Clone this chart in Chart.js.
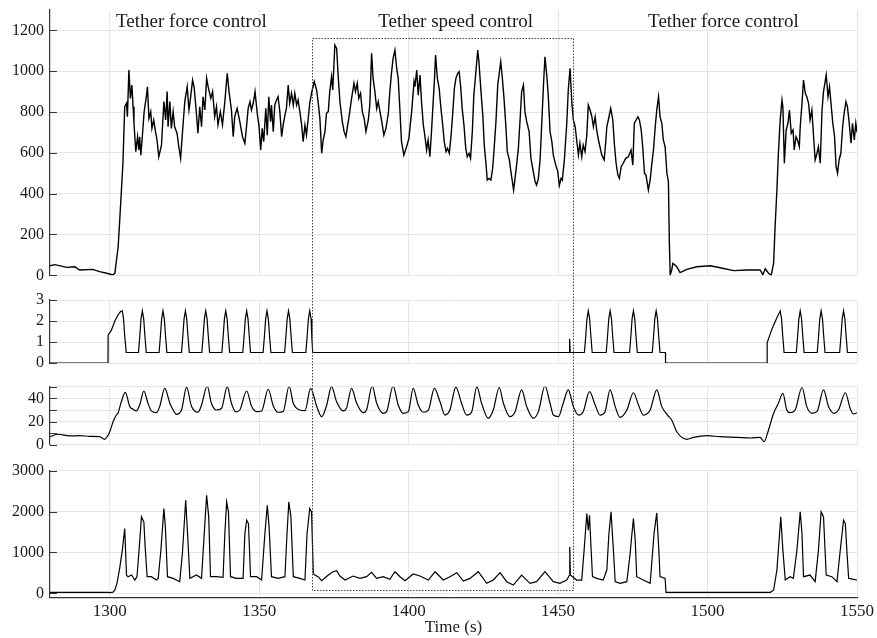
<!DOCTYPE html>
<html lang="en">
<head>
<meta charset="UTF-8">
<title>Tether control</title>
<script src="https://cdn.jsdelivr.net/npm/chart.js"></script>
<style>
  body { margin: 0; background: #fff; }
  .stack { position: relative; width: 877px; height: 638px; }
  .stack canvas { position: absolute; left: 0; top: 0; }
</style>
</head>
<body>
<div class="stack">
  <canvas id="forceChart" width="877" height="638"></canvas>
  <canvas id="signalChart" width="877" height="638"></canvas>
  <canvas id="speedChart" width="877" height="638"></canvas>
  <canvas id="powerChart" width="877" height="638"></canvas>
</div>
<script>
// time axis
const xTicks = [1300, 1350, 1400, 1450, 1500, 1550];

// section labels on top of the first panel
const sectionLabels = ['Tether force control', 'Tether speed control', 'Tether force control'];
const sectionCenters = [1327.3, 1415.7, 1505.3];
const sectionLevel = 1217;

// dotted box around the speed control phase
const speedWindow = [1367.5, 1454.9];
const boxTop = 1163;     // in panel 1 units
const boxBottom = 80;    // in panel 4 units

// tick values per panel
const forceTicks = [0, 200, 400, 600, 800, 1000, 1200];
const signalTicks = [0, 1, 2, 3];
const speedTicks = [0, 10, 20, 30, 40, 50];
const speedLabels = [0, 20, 40];
const powerTicks = [0, 1000, 2000, 3000];

// [time, value]
const forceData = [[1280,47],[1281.6,52],[1285.6,39],[1288.3,42],[1289.9,26],[1294.3,29],[1296.6,18],[1299.0,10],[1301.0,2],[1301.7,10],[1302.8,140],[1303.3,263],[1303.9,418],[1304.4,549],[1305.0,826],[1305.6,843],[1305.9,777],[1306.4,1006],[1306.9,867],[1307.4,932],[1307.8,826],[1308.1,745],[1308.7,606],[1309.3,679],[1309.7,614],[1310.0,679],[1310.4,589],[1310.8,663],[1311.5,802],[1312.3,883],[1312.6,924],[1313.1,769],[1313.7,802],[1314.1,720],[1314.7,761],[1315.3,704],[1315.8,663],[1316.4,581],[1317.3,638],[1318.1,851],[1318.7,761],[1319.2,900],[1319.5,728],[1320.1,851],[1320.6,720],[1321.2,802],[1321.7,728],[1322.5,696],[1323.1,630],[1323.7,573],[1324.3,696],[1325.1,851],[1325.9,924],[1326.5,810],[1327.0,867],[1327.7,957],[1328.2,924],[1328.8,826],[1329.5,696],[1330.1,826],[1330.7,728],[1331.2,875],[1331.8,810],[1332.4,965],[1332.9,924],[1333.8,867],[1334.4,900],[1335.1,777],[1335.7,826],[1336.2,737],[1337.0,802],[1337.7,737],[1338.5,851],[1339.3,990],[1339.9,900],[1340.7,810],[1341.3,679],[1341.8,777],[1342.6,818],[1343.3,769],[1343.7,737],[1344.4,679],[1345.2,647],[1345.8,737],[1346.3,818],[1346.9,851],[1347.4,810],[1348.0,843],[1348.6,900],[1349.4,785],[1349.9,736],[1350.5,614],[1351.0,720],[1351.5,655],[1352.2,818],[1352.7,687],[1353.2,875],[1353.8,753],[1354.1,834],[1354.7,704],[1355.2,834],[1355.8,859],[1356.3,875],[1356.9,802],[1357.5,679],[1358.0,736],[1358.6,785],[1359.1,818],[1359.7,932],[1360.2,843],[1360.8,892],[1361.4,834],[1361.9,892],[1362.5,834],[1363.0,859],[1363.6,802],[1364.2,736],[1364.7,655],[1365.3,736],[1365.8,687],[1366.4,769],[1366.9,843],[1367.5,892],[1368.4,949],[1369.2,908],[1369.7,851],[1370.3,769],[1370.9,598],[1371.4,663],[1372.0,704],[1372.5,794],[1373.1,802],[1373.6,900],[1374.2,973],[1374.6,908],[1375.3,1128],[1375.9,1112],[1376.4,981],[1377.0,851],[1377.8,753],[1378.4,704],[1379.0,679],[1379.6,736],[1380.3,802],[1380.9,867],[1381.7,941],[1382.2,900],[1382.8,941],[1383.3,867],[1383.9,892],[1384.5,802],[1385.1,769],[1385.7,704],[1386.5,761],[1387.0,834],[1387.6,1088],[1388.1,965],[1388.7,900],[1389.3,818],[1389.8,851],[1390.4,802],[1391.0,753],[1391.7,687],[1392.4,720],[1393.2,794],[1393.7,900],[1394.3,998],[1394.8,1063],[1395.4,1104],[1396.0,1014],[1396.5,965],[1397.1,802],[1397.6,655],[1398.4,589],[1399.3,630],[1400.1,671],[1400.4,720],[1401.0,802],[1401.8,949],[1402.1,924],[1402.7,1006],[1403.2,883],[1403.8,981],[1404.3,851],[1404.9,736],[1405.4,687],[1406.0,614],[1406.5,663],[1407.1,581],[1407.7,720],[1408.2,851],[1408.6,949],[1409.0,1079],[1409.6,965],[1410.2,916],[1410.8,818],[1411.4,736],[1411.9,655],[1412.5,606],[1413.0,622],[1413.6,598],[1414.2,687],[1414.7,785],[1415.3,916],[1415.8,965],[1416.4,990],[1416.9,998],[1417.4,924],[1417.9,818],[1418.5,736],[1419.1,622],[1419.6,581],[1420.2,598],[1420.7,573],[1421.3,704],[1421.8,883],[1422.4,981],[1423.1,1104],[1423.5,1047],[1424.2,900],[1424.8,785],[1425.3,638],[1425.9,540],[1426.3,467],[1426.9,475],[1427.5,467],[1428.1,524],[1428.6,622],[1429.2,753],[1429.8,932],[1430.3,990],[1430.8,1047],[1431.3,973],[1431.9,867],[1432.5,736],[1433.0,606],[1433.7,565],[1434.2,508],[1434.7,459],[1435.1,418],[1435.6,475],[1436.1,540],[1436.7,622],[1437.3,769],[1437.8,900],[1438.4,932],[1438.9,802],[1439.5,753],[1440.3,704],[1440.9,573],[1441.5,524],[1442.3,459],[1442.8,442],[1443.4,475],[1444.0,573],[1444.5,736],[1445.1,932],[1445.6,1071],[1446.2,981],[1446.7,883],[1447.3,704],[1447.9,655],[1448.4,589],[1449.2,540],[1449.9,508],[1450.4,440],[1451.0,475],[1451.4,467],[1452.1,567],[1452.9,745],[1453.4,908],[1454.0,1014],[1454.6,843],[1455.1,761],[1455.7,728],[1456.2,663],[1456.8,589],[1457.3,647],[1457.9,581],[1458.4,638],[1459.0,606],[1459.6,687],[1460.1,834],[1460.7,810],[1461.3,777],[1461.8,728],[1462.4,777],[1462.9,712],[1463.5,663],[1464.0,630],[1464.6,589],[1465.4,565],[1465.9,647],[1466.3,728],[1466.8,761],[1467.6,818],[1468.3,761],[1468.8,647],[1469.4,549],[1470.0,491],[1470.5,475],[1471.1,532],[1471.8,549],[1472.6,573],[1473.5,581],[1474.4,614],[1475.0,540],[1475.5,745],[1476.1,761],[1476.7,777],[1477.2,761],[1477.8,712],[1478.3,630],[1478.9,500],[1479.4,491],[1480.2,418],[1480.8,467],[1481.3,540],[1481.9,614],[1482.5,728],[1483.0,810],[1483.6,875],[1484.1,777],[1484.7,745],[1485.2,663],[1485.8,630],[1486.4,500],[1486.9,459],[1487.2,173],[1487.5,2],[1488.0,26],[1488.4,59],[1489.7,42],[1490.8,13],[1493.1,29],[1496.4,42],[1500.9,47],[1504.2,37],[1508.7,23],[1513.2,26],[1517.6,26],[1518.5,3],[1519.3,32],[1520.4,10],[1521.3,0],[1522.1,59],[1522.6,238],[1523.2,418],[1523.7,598],[1524.3,761],[1524.9,859],[1525.2,826],[1525.7,549],[1526.3,712],[1526.9,745],[1527.4,810],[1528.0,696],[1528.6,712],[1529.0,614],[1529.6,679],[1530.1,663],[1530.7,630],[1531.0,728],[1531.6,843],[1532.1,957],[1532.7,892],[1533.2,875],[1533.8,843],[1534.3,761],[1534.9,810],[1535.4,696],[1536.0,565],[1536.6,598],[1537.1,630],[1537.7,549],[1538.3,810],[1538.8,900],[1539.7,981],[1540.3,875],[1540.8,924],[1541.4,826],[1541.9,745],[1542.5,679],[1543.0,532],[1543.5,500],[1544.0,565],[1544.6,598],[1545.2,728],[1545.7,794],[1546.3,851],[1546.8,826],[1547.4,745],[1548.0,647],[1548.5,745],[1549.1,663],[1549.6,745],[1550,700]];

const signalData = [[1280,0],[1299.4,0],[1299.45,1.33],[1300.5,1.55],[1301.7,2.0],[1302.8,2.3],[1303.6,2.45],[1304.2,2.48],[1304.6,2.1],[1305.0,1.3],[1305.5,0.5],
[1309.6,0.5],[1310.05,1.3],[1310.45,2.1],[1310.9,2.48],[1311.35,2.1],[1311.75,1.3],[1312.2,0.5],
[1316.5,0.5],[1316.95,1.3],[1317.35,2.1],[1317.8,2.48],[1318.25,2.1],[1318.65,1.3],[1319.1,0.5],
[1324.0,0.5],[1324.45,1.3],[1324.85,2.1],[1325.3,2.48],[1325.75,2.1],[1326.15,1.3],[1326.6,0.5],
[1330.8,0.5],[1331.25,1.3],[1331.65,2.1],[1332.1,2.48],[1332.55,2.1],[1332.95,1.3],[1333.4,0.5],
[1337.5,0.5],[1337.95,1.3],[1338.35,2.1],[1338.8,2.48],[1339.25,2.1],[1339.65,1.3],[1340.1,0.5],
[1344.5,0.5],[1344.95,1.3],[1345.35,2.1],[1345.8,2.48],[1346.25,2.1],[1346.65,1.3],[1347.1,0.5],
[1351.3,0.5],[1351.75,1.3],[1352.15,2.1],[1352.6,2.48],[1353.05,2.1],[1353.45,1.3],[1353.9,0.5],
[1358.5,0.5],[1358.95,1.3],[1359.35,2.1],[1359.8,2.48],[1360.25,2.1],[1360.65,1.3],[1361.1,0.5],
[1365.6,0.5],[1366.05,1.3],[1366.45,2.1],[1366.9,2.48],[1367.35,2.1],[1367.6,1.2],[1367.9,0.5],
[1453.8,0.5],[1453.85,1.15],[1454.05,0.5],
[1458.8,0.5],[1459.25,1.3],[1459.65,2.1],[1460.1,2.48],[1460.55,2.1],[1460.95,1.3],[1461.4,0.5],
[1466.1,0.5],[1466.55,1.3],[1466.95,2.1],[1467.4,2.48],[1467.85,2.1],[1468.25,1.3],[1468.7,0.5],
[1473.9,0.5],[1474.35,1.3],[1474.75,2.1],[1475.2,2.48],[1475.65,2.1],[1476.05,1.3],[1476.5,0.5],
[1481.5,0.5],[1481.95,1.3],[1482.35,2.1],[1482.8,2.48],[1483.25,2.1],[1483.65,1.3],[1484.1,0.5],
[1485.9,0.5],[1485.95,0],[1519.9,0],[1519.95,0.97],[1521.5,1.6],[1523.0,2.1],[1524.3,2.48],[1524.75,2.1],[1525.15,1.3],[1525.6,0.5],
[1529.7,0.5],[1530.15,1.3],[1530.55,2.1],[1531.0,2.48],[1531.45,2.1],[1531.85,1.3],[1532.3,0.5],
[1536.7,0.5],[1537.15,1.3],[1537.55,2.1],[1538.0,2.48],[1538.45,2.1],[1538.85,1.3],[1539.3,0.5],
[1544.2,0.5],[1544.65,1.3],[1545.05,2.1],[1545.5,2.48],[1545.95,2.1],[1546.35,1.3],[1546.8,0.5],
[1550,0.5]];

const speedData = [[1280,7.1],[1282.7,9.2],[1286.6,7.8],[1289.9,8.0],[1293.3,7.4],[1296.6,7.1],[1298.3,4.9],[1299.1,7.1],[1300.0,11.4],[1301.1,20],[1302.2,25.7],[1302.8,27.7],[1303.7,35.7],[1305.2,45.2],[1306.7,32.9],[1307.8,30.6],[1308.9,29.2],[1310.0,34.3],[1311.4,46.3],[1312.8,35.7],[1313.9,29.2],[1315.6,27.7],[1316.7,32.9],[1318.4,48.6],[1320.1,35.8],[1321.2,30.0],[1322.3,26.3],[1324.0,30.0],[1325.7,49.6],[1327.3,33.5],[1329.5,28.1],[1330.7,34.3],[1332.6,50.6],[1334.0,35.8],[1335.7,30.0],[1337.4,31.5],[1339.3,50.0],[1340.7,35.8],[1342.2,28.4],[1343.5,30.0],[1345.8,46.3],[1347.4,33.5],[1349.1,28.7],[1350.8,29.2],[1353.0,47.8],[1354.7,33.5],[1356.3,28.1],[1358.0,28.6],[1360.0,50.6],[1361.4,35.8],[1363.6,30.0],[1365.3,29.4],[1367.2,48.6],[1369.2,33.5],[1370.9,24.3],[1372.5,33.5],[1374.2,50.0],[1375.9,37.1],[1378.1,29.2],[1379.2,31.5],[1380.9,48.6],[1382.6,35.8],[1384.8,27.7],[1385.9,30.0],[1387.8,50.6],[1389.3,35.8],[1391.5,27.2],[1392.6,28.6],[1394.8,50.6],[1396.5,34.3],[1398.2,27.2],[1399.9,28.6],[1401.5,48.6],[1403.2,34.3],[1404.9,28.1],[1406.6,30.0],[1408.6,48.6],[1410.5,37.0],[1412.1,25.7],[1413.8,30.0],[1415.8,49.6],[1417.7,35.8],[1419.4,25.7],[1421.1,28.6],[1422.8,50.0],[1424.4,35.8],[1426.6,22.9],[1428.3,30.0],[1430.3,49.3],[1431.7,35.8],[1433.9,24.3],[1435.6,28.6],[1437.8,47.2],[1439.5,32.9],[1441.7,22.9],[1443.4,28.6],[1445.6,50.6],[1447.3,35.8],[1448.4,25.7],[1450.1,24.3],[1451.7,35.8],[1453.4,47.2],[1455.1,32.9],[1456.8,25.7],[1458.4,28.6],[1460.5,45.7],[1462.4,34.3],[1464.0,25.7],[1465.7,28.6],[1467.4,47.2],[1469.1,32.9],[1470.7,23.7],[1473.0,30.0],[1475.2,44.8],[1476.9,34.3],[1478.5,25.7],[1480.8,30.0],[1483.0,47.2],[1484.7,32.9],[1486.6,25.7],[1488.0,21.4],[1489.7,11.4],[1493.1,4.9],[1495.3,6.6],[1499.8,8.0],[1504.2,7.1],[1509.8,6.6],[1514.3,6.0],[1517.6,6.6],[1518.9,2.9],[1520.4,12.9],[1522.1,27.2],[1523.7,35.8],[1525.2,44.3],[1526.5,30.0],[1527.6,27.7],[1529.3,30.0],[1531.6,49.3],[1533.2,32.9],[1534.9,27.2],[1536.6,28.6],[1538.8,47.2],[1540.5,32.9],[1542.4,27.2],[1543.8,30.0],[1546.1,44.8],[1547.7,31.5],[1548.8,26.6],[1550,27.7]];

const powerData = [[1280,25],[1299.4,25],[1300.0,15],[1301.1,30],[1301.7,81],[1302.4,244],[1303.3,610],[1304.2,1057],[1305.0,1585],[1305.6,447],[1306.1,407],[1307.3,447],[1308.4,325],[1309.1,407],[1309.8,1057],[1310.6,1870],[1311.4,1748],[1311.9,1057],[1312.5,407],[1313.9,407],[1315.6,325],[1316.2,366],[1317.1,1057],[1318.1,2073],[1318.6,1626],[1319.3,407],[1321.2,366],[1323.4,285],[1324.3,976],[1325.4,2276],[1326.2,1220],[1326.8,366],[1329.0,447],[1330.7,366],[1331.2,976],[1332.4,2398],[1333.1,1870],[1333.7,407],[1335.7,407],[1337.9,390],[1338.5,1463],[1339.1,2236],[1339.7,1992],[1340.4,407],[1342.4,366],[1344.6,366],[1345.2,1463],[1345.8,1789],[1346.4,1707],[1347.1,407],[1349.1,407],[1350.8,325],[1351.9,1463],[1352.7,2154],[1353.3,1626],[1354.1,407],[1356.3,366],[1358.6,407],[1359.3,1463],[1359.9,2236],[1360.6,1870],[1361.4,407],[1363.6,366],[1365.3,325],[1366.0,1463],[1366.9,2073],[1367.5,1992],[1368.1,488],[1368.6,447],[1369.7,407],[1370.9,309],[1373.1,447],[1374.7,528],[1375.9,553],[1377.0,423],[1378.7,325],[1381.4,423],[1383.7,366],[1385.9,407],[1387.6,512],[1389.3,366],[1391.5,407],[1393.7,342],[1395.4,528],[1397.1,407],[1398.8,309],[1401.5,472],[1403.8,423],[1406.6,325],[1408.8,528],[1411.6,325],[1413.8,407],[1416.1,504],[1418.3,301],[1420.5,366],[1423.3,528],[1426.1,244],[1428.3,325],[1430.6,504],[1432.8,285],[1435.0,203],[1437.8,447],[1440.6,244],[1442.8,285],[1445.6,528],[1448.4,285],[1450.6,244],[1452.9,325],[1453.8,447],[1453.9,1138],[1454.1,447],[1456.2,325],[1457.9,325],[1458.7,1057],[1459.6,1951],[1460.1,1545],[1460.5,1911],[1461.0,1138],[1461.5,407],[1462.9,366],[1465.1,325],[1466.3,569],[1467.0,1463],[1467.7,1992],[1468.5,1057],[1469.1,285],[1470.7,244],[1473.0,285],[1474.1,976],[1474.6,1382],[1475.2,1829],[1475.8,1301],[1476.3,407],[1478.5,325],[1480.8,244],[1482.1,1463],[1483.0,1967],[1483.7,1057],[1484.1,407],[1485.8,366],[1486.1,25],[1521.0,25],[1522.1,81],[1523.2,569],[1524.5,1870],[1525.2,1057],[1526.0,325],[1527.6,407],[1528.7,366],[1529.9,1057],[1531.0,1992],[1531.6,1463],[1532.1,407],[1534.3,447],[1536.0,285],[1537.1,1057],[1538.0,1992],[1538.8,1870],[1539.7,447],[1541.6,407],[1543.3,285],[1544.4,1057],[1545.5,1789],[1546.1,1707],[1546.6,1057],[1547.2,366],[1548.8,342],[1550,325]];

const serif = '"Liberation Serif", "DejaVu Serif", serif';
const gridColor = '#e6e6e6';
const axisColor = '#333';

// short tick marks pointing into the plot
const innerTicks = {
  id: 'innerTicks',
  afterDraw(chart) {
    const y = chart.scales.y, ctx = chart.ctx;
    ctx.save();
    ctx.strokeStyle = axisColor;
    ctx.lineWidth = 1;
    y.ticks.forEach(t => {
      const py = Math.round(y.getPixelForValue(t.value)) + 0.5;
      ctx.beginPath();
      ctx.moveTo(y.right, py);
      ctx.lineTo(y.right + 7, py);
      ctx.stroke();
    });
    ctx.restore();
  }
};

const sectionTitles = {
  id: 'sectionTitles',
  afterDraw(chart) {
    const {ctx, scales} = chart;
    ctx.save();
    ctx.font = '19px ' + serif;
    ctx.fillStyle = '#1a1a1a';
    ctx.textAlign = 'center';
    ctx.textBaseline = 'alphabetic';
    sectionLabels.forEach((txt, i) => {
      ctx.fillText(txt, scales.x.getPixelForValue(sectionCenters[i]), scales.y.getPixelForValue(sectionLevel));
    });
    ctx.restore();
  }
};

const speedBox = {
  id: 'speedBox',
  afterDraw(chart) {
    const ctx = chart.ctx, x = chart.scales.x;
    const x1 = x.getPixelForValue(speedWindow[0]);
    const x2 = x.getPixelForValue(speedWindow[1]);
    const y1 = forceChart.scales.y.getPixelForValue(boxTop);
    const y2 = chart.scales.y.getPixelForValue(boxBottom);
    ctx.save();
    ctx.strokeStyle = '#444';
    ctx.lineWidth = 1;
    ctx.setLineDash([1.5, 1.5]);
    ctx.strokeRect(Math.round(x1) + 0.5, Math.round(y1) + 0.5, Math.round(x2 - x1), Math.round(y2 - y1));
    ctx.restore();
  }
};

function panel(id, data, o) {
  return new Chart(document.getElementById(id), {
    type: 'line',
    data: {
      datasets: [{
        data: data.map(p => ({x: p[0], y: p[1]})),
        borderColor: '#000',
        borderWidth: o.lineWidth || 1.2,
        pointRadius: 0,
        tension: 0,
        cubicInterpolationMode: o.smooth ? 'monotone' : 'default'
      }]
    },
    options: {
      responsive: false,
      animation: false,
      events: [],
      layout: { padding: { top: o.top, bottom: o.bottom, left: 0, right: 20 } },
      plugins: { legend: { display: false }, tooltip: { enabled: false } },
      scales: {
        x: {
          type: 'linear', min: 1280, max: 1550,
          afterBuildTicks: s => { s.ticks = xTicks.map(v => ({value: v})); },
          afterFit: s => { s.height = o.xHeight; s.paddingLeft = 0; s.paddingRight = 0; },
          grid: { color: gridColor, drawTicks: false },
          border: { display: o.xAxis, color: axisColor, width: 1.2 },
          ticks: {
            display: o.xAxis, padding: 4, color: '#1a1a1a', maxRotation: 0, autoSkip: false,
            font: { family: serif, size: 17 },
            callback: v => String(v)
          },
          title: { display: o.xAxis, text: 'Time (s)', color: '#1a1a1a', padding: { top: 0, bottom: 0 }, font: { family: serif, size: 17 } }
        },
        y: {
          min: o.min, max: o.max,
          afterBuildTicks: s => { s.ticks = o.ticks.map(v => ({value: v})); },
          afterFit: s => { s.width = 50; s.paddingTop = 0; s.paddingBottom = 0; },
          grid: { color: gridColor, drawTicks: false },
          border: { color: axisColor, width: 1.2 },
          ticks: {
            padding: 6, color: '#1a1a1a', autoSkip: false, font: { family: serif, size: 16 },
            callback: v => (o.labels || o.ticks).includes(v) ? String(v) : ''
          }
        }
      }
    },
    plugins: [innerTicks].concat(o.plugins || [])
  });
}

const forceChart = panel('forceChart', forceData, {
  top: 10, bottom: 362.7, min: 0, max: 1300, ticks: forceTicks, xHeight: 0, xAxis: false,
  lineWidth: 1.4, plugins: [sectionTitles]
});
const signalChart = panel('signalChart', signalData, {
  top: 300, bottom: 275, min: 0, max: 3, ticks: signalTicks, xHeight: 0, xAxis: false
});
const speedChart = panel('speedChart', speedData, {
  top: 386.7, bottom: 193, min: 0, max: 50, ticks: speedTicks, labels: speedLabels, xHeight: 0, xAxis: false, smooth: true
});
const powerChart = panel('powerChart', powerData, {
  top: 470.7, bottom: 0, min: -100, max: 3000, ticks: powerTicks, xHeight: 40.6, xAxis: true,
  plugins: [speedBox]
});
</script>
</body>
</html>
